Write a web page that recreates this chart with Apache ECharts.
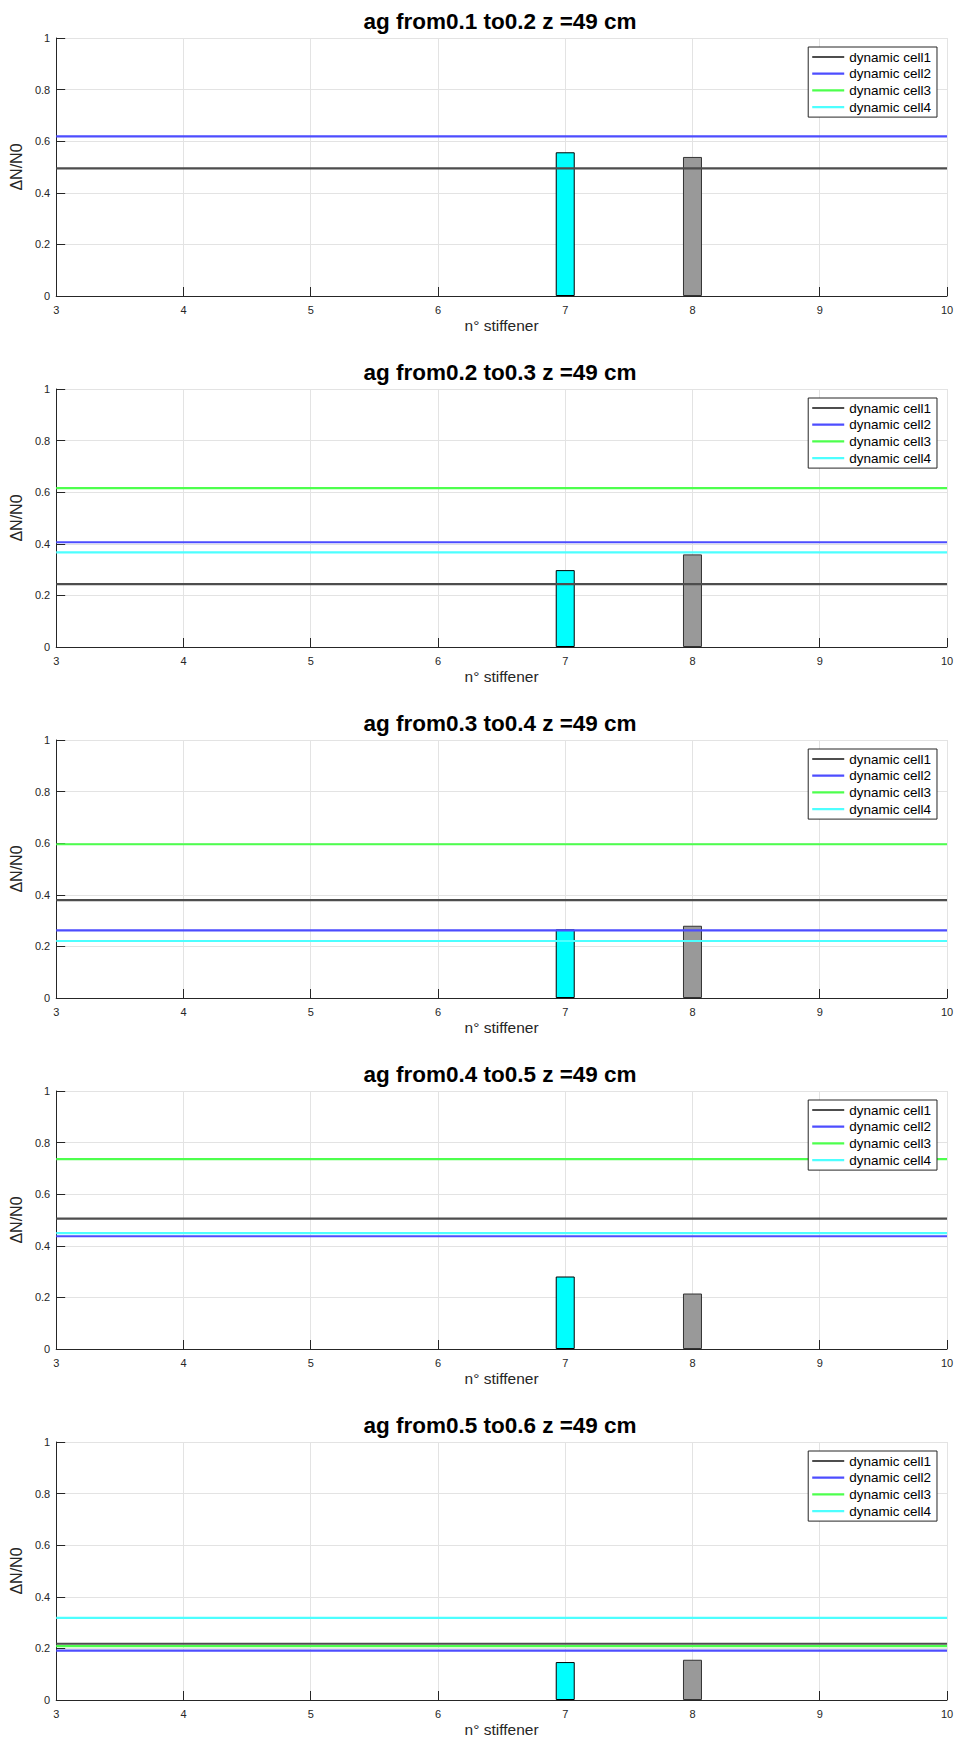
<!DOCTYPE html>
<html>
<head>
<meta charset="utf-8">
<script src="https://cdn.jsdelivr.net/npm/echarts@6/dist/echarts.min.js"></script>
<style>
html,body{margin:0;padding:0;background:#fff;}
#chart{width:957px;height:1742px;}
</style>
</head>
<body>
<div id="chart"></div>
<script>
// ---- data ----
const titles = [
  'ag from0.1 to0.2 z =49 cm',
  'ag from0.2 to0.3 z =49 cm',
  'ag from0.3 to0.4 z =49 cm',
  'ag from0.4 to0.5 z =49 cm',
  'ag from0.5 to0.6 z =49 cm'
];
const cellNames = ['dynamic cell1', 'dynamic cell2', 'dynamic cell3', 'dynamic cell4'];
const xRange = [3, 10];
const xTicks = [3, 4, 5, 6, 7, 8, 9, 10];
const yTicks = [0, 0.2, 0.4, 0.6, 0.8, 1];
// horizontal levels of each dynamic cell, one value per panel (null = not drawn)
const cell1 = [0.495, 0.244, 0.379, 0.505, 0.218];
const cell2 = [0.619, 0.406, 0.262, 0.437, 0.191];
const cell3 = [null, 0.616, 0.596, 0.736, 0.209];
const cell4 = [null, 0.367, 0.221, 0.449, 0.318];
// bars
const barX = [7, 8];
const barCyan = [0.557, 0.298, 0.266, 0.281, 0.147];
const barGray = [0.539, 0.359, 0.280, 0.215, 0.156];

// ---- styling / layout ----
const cellColors = ['#4d4d4d', '#4d4dff', '#4dff4d', '#4dffff'];
const cells = [cell1, cell2, cell3, cell4];
const gridTops = [38, 389, 740, 1091, 1442];
const gridH = 258;
const gridLeft = 53, gridRight = 10;
const FONT = 'Liberation Sans, Arial, sans-serif';
const axisColor = '#262626';

const option = {
  animation: false,
  backgroundColor: '#ffffff',
  title: [], grid: [], xAxis: [], yAxis: [], legend: [], series: []
};

titles.forEach((t, i) => {
  const top = gridTops[i];
  option.title.push({
    text: t, left: 500, top: top - 17 - 12, textAlign: 'center', padding: 0,
    textStyle: {fontFamily: FONT, fontSize: 22.5, fontWeight: 'bold', color: '#000', lineHeight: 24}
  });
  option.grid.push({left: gridLeft, right: gridRight, top: top, height: gridH, containLabel: false});
  option.xAxis.push({
    type: 'value', gridIndex: i, min: xRange[0], max: xRange[1], interval: 1,
    name: 'n° stiffener', nameLocation: 'middle', nameGap: 21,
    nameTextStyle: {fontFamily: FONT, fontSize: 15.5, color: axisColor},
    axisLine: {show: true, lineStyle: {color: axisColor, width: 1}},
    axisTick: {show: true, inside: true, length: 9, lineStyle: {color: axisColor}},
    axisLabel: {fontFamily: FONT, fontSize: 11, color: axisColor, margin: 8,
      formatter: v => (xTicks.indexOf(v) >= 0 ? String(v) : '')},
    splitLine: {show: true, lineStyle: {color: '#e3e3e3', width: 1}}
  });
  option.yAxis.push({
    type: 'value', gridIndex: i, min: 0, max: 1, interval: 0.2,
    name: 'ΔN/N0', nameLocation: 'middle', nameGap: 22,
    nameTextStyle: {fontFamily: FONT, fontSize: 16, color: axisColor},
    axisLine: {show: true, lineStyle: {color: axisColor, width: 1}},
    axisTick: {show: true, inside: true, length: 9, lineStyle: {color: axisColor}},
    axisLabel: {fontFamily: FONT, fontSize: 11, color: axisColor, margin: 6,
      formatter: v => { const k = yTicks.find(y => Math.abs(y - v) < 1e-9); return k === undefined ? '' : String(k); }},
    splitLine: {show: true, lineStyle: {color: '#e3e3e3', width: 1}}
  });
  option.legend.push({
    data: cellNames, orient: 'vertical', right: 20, top: top + 9, z: 20,
    backgroundColor: '#ffffff', borderColor: axisColor, borderWidth: 1,
    padding: [3, 6, 3, 4], itemGap: 2.7, itemWidth: 32, itemHeight: 2.2,
    icon: 'rect',
    textStyle: {fontFamily: FONT, fontSize: 13.5, color: '#000', lineHeight: 14},
    selectedMode: false
  });
  // bars
  option.series.push({
    type: 'bar', xAxisIndex: i, yAxisIndex: i, barWidth: 19, z: 2,
    data: [
      {value: [barX[0], barCyan[i]], itemStyle: {color: '#00ffff', borderColor: '#000000', borderWidth: 1}},
      {value: [barX[1], barGray[i]], itemStyle: {color: '#999999', borderColor: '#333333', borderWidth: 1}}
    ]
  });
  // horizontal lines
  cells.forEach((arr, c) => {
    const v = arr[i];
    option.series.push({
      name: cellNames[c], type: 'line', xAxisIndex: i, yAxisIndex: i, z: 3 + c,
      symbol: 'none', showSymbol: false,
      lineStyle: {color: cellColors[c], width: 2.2},
      itemStyle: {color: cellColors[c]},
      data: v === null ? [] : [[xRange[0], v], [xRange[1], v]]
    });
  });
});

const chart = echarts.init(document.getElementById('chart'), null, {renderer: 'svg'});
chart.setOption(option);
</script>
</body>
</html>
